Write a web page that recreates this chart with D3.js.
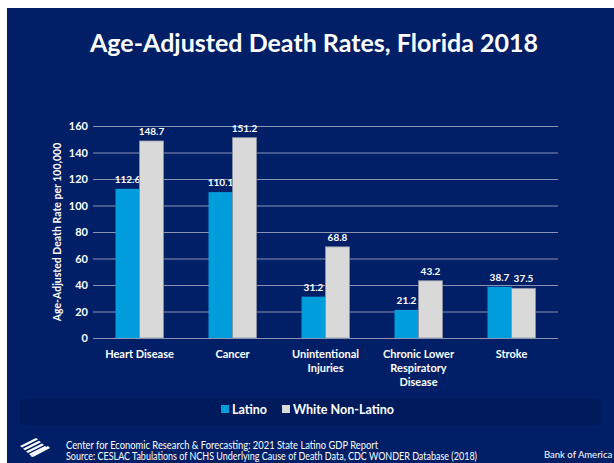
<!DOCTYPE html>
<html><head><meta charset="utf-8">
<script src="https://cdn.jsdelivr.net/npm/d3@7"></script>
<style>body{margin:0;background:#fff}svg{display:block}text{font-family:Lato,"Open Sans",sans-serif}</style>
</head><body>
<svg id="c" width="614" height="463"></svg>
<script>
const categories = [["Heart Disease"],["Cancer"],["Unintentional","Injuries"],["Chronic Lower","Respiratory","Disease"],["Stroke"]];
const seriesNames = ["Latino","White Non-Latino"];
const latino = [112.6,110.1,31.2,21.2,38.7];
const white = [148.7,151.2,68.8,43.2,37.5];
const yTicks = [0,20,40,60,80,100,120,140,160];
const colors = ["#009ddc","#d9d9d9"];

const svg = d3.select("#c");
svg.append("rect").attr("x",7).attr("y",8).attr("width",607).attr("height",455).attr("fill","#001f67");
// legend band
svg.append("rect").attr("x",20).attr("y",399).attr("width",582).attr("height",26).attr("fill","#001b5c");

svg.append("text").attr("x",314).attr("y",52).attr("text-anchor","middle").attr("fill","#fff")
  .attr("font-weight","bold").attr("font-size",24.5).attr("textLength",448).attr("lengthAdjust","spacingAndGlyphs")
  .text("Age-Adjusted Death Rates, Florida 2018");

const x0 = d3.scaleBand().domain(d3.range(categories.length)).range([93,558]).paddingInner(0).paddingOuter(0);
const x1 = d3.scaleBand().domain([0,1]).range([x0.bandwidth()/2-24, x0.bandwidth()/2+24]);
const y = d3.scaleLinear().domain([0,160]).range([338,126]);

const g = svg.append("g");
g.selectAll("line.grid").data(yTicks).join("line").attr("x1",93).attr("x2",558)
  .attr("y1",d=>y(d)+0.5).attr("y2",d=>y(d)+0.5).attr("stroke","#8a93b3").attr("stroke-width",1);

const yAxis = d3.axisLeft(y).tickValues(yTicks).tickSize(0).tickPadding(0);
const ya = svg.append("g").attr("transform","translate(88,0)").call(yAxis);
ya.select(".domain").remove();
ya.selectAll("text").attr("fill","#fff").attr("font-weight","bold").attr("font-size",11).attr("font-family","Lato,sans-serif");

svg.append("text").attr("transform","translate(61,232) rotate(-90)").attr("text-anchor","middle")
  .attr("fill","#fff").attr("font-weight","bold").attr("font-size",10.5).text("Age-Adjusted Death Rate per 100,000");

const data = [latino, white];
data.forEach((vals,si)=>{
  g.selectAll("rect.s"+si).data(vals).join("rect")
    .attr("x",(d,i)=>x0(i)+x1(si)).attr("width",x1.bandwidth())
    .attr("y",d=>y(d)).attr("height",d=>y(0)-y(d))
    .attr("fill",colors[si]).attr("stroke",si===1?"#8f94a6":"none").attr("stroke-width",si===1?0.8:0);
  g.selectAll("text.l"+si).data(vals).join("text")
    .attr("x",(d,i)=>x0(i)+x1(si)+x1.bandwidth()/2).attr("y",d=>y(d)-6)
    .attr("text-anchor","middle").attr("fill","#fff").attr("font-weight","bold").attr("font-size",10)
    .text(d=>d.toFixed(1));
});

categories.forEach((lines,i)=>{
  const t = svg.append("text").attr("text-anchor","middle").attr("fill","#fff").attr("font-weight","bold").attr("font-size",11);
  lines.forEach((s,k)=>t.append("tspan").attr("x",x0(i)+x0.bandwidth()/2).attr("y",358+k*14).text(s));
});

// legend
const lg = svg.append("g");
const legX = [221,282];
seriesNames.forEach((n,i)=>{
  lg.append("rect").attr("x",legX[i]).attr("y",405).attr("width",8).attr("height",8).attr("fill",colors[i]);
  lg.append("text").attr("x",legX[i]+11).attr("y",414).attr("fill","#fff").attr("font-weight","bold").attr("font-size",12.5).text(n);
});

// logo
const logo = svg.append("g").attr("fill","#fff");
[0,3,6,9].forEach(o=>{
  logo.append("path").attr("d",`M${20+o},${446+o*0.9} L${36+o},${438+o*0.9} L${38+o},${439.5+o*0.9} L${22+o},${447.5+o*0.9}Z`);
});
logo.append("path").attr("d","M30,456 L48,446 L50,448 L33,457Z");

svg.append("text").attr("x",66).attr("y",449).attr("fill","#fff").attr("font-size",10.5)
  .attr("textLength",312).attr("lengthAdjust","spacingAndGlyphs")
  .text("Center for Economic Research & Forecasting: 2021 State Latino GDP Report");
svg.append("text").attr("x",66).attr("y",460).attr("fill","#fff").attr("font-size",10.5)
  .attr("textLength",411).attr("lengthAdjust","spacingAndGlyphs")
  .text("Source: CESLAC Tabulations of NCHS Underlying Cause of Death Data, CDC WONDER Database (2018)");
svg.append("text").attr("x",544).attr("y",458).attr("fill","#fff").attr("font-size",9.5)
  .text("Bank of America");
</script>
</body></html>
